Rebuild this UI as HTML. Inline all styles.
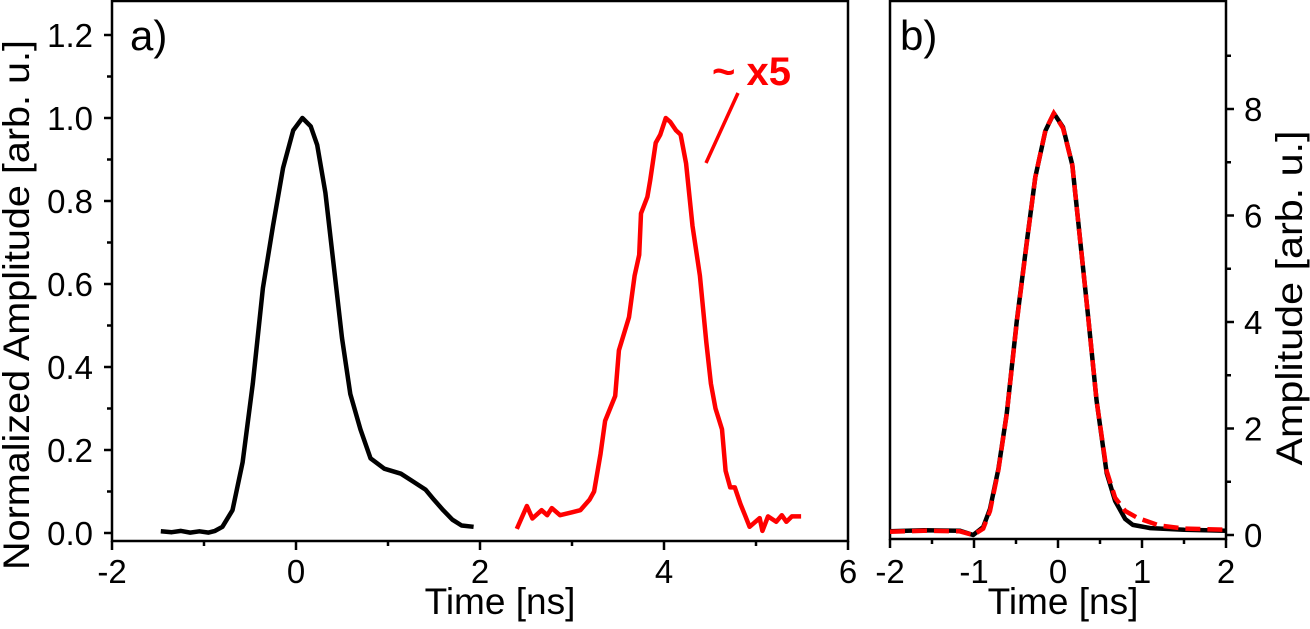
<!DOCTYPE html>
<html><head><meta charset="utf-8"><style>
html,body{margin:0;padding:0;background:#fff;}
svg{display:block;font-family:"Liberation Sans",Arial,sans-serif;}
</style></head><body>
<svg id="chart" width="1310" height="629" viewBox="0 0 1310 629" xmlns="http://www.w3.org/2000/svg"></svg>
<script>
// Panel a data
const aTicksX = [-2, 0, 2, 4, 6];
const aTicksY = [0.0, 0.2, 0.4, 0.6, 0.8, 1.0, 1.2];
const aTickLabelsY = ["0.0","0.2","0.4","0.6","0.8","1.0","1.2"];
const aBlackX = [-1.47,-1.35,-1.25,-1.15,-1.05,-0.95,-0.88,-0.80,-0.69,-0.58,-0.47,-0.36,-0.25,-0.14,-0.03,0.07,0.16,0.23,0.32,0.41,0.50,0.59,0.70,0.81,0.96,1.14,1.28,1.41,1.50,1.60,1.70,1.80,1.93];
const aBlackY = [0.004,0.002,0.005,0.001,0.004,0.001,0.005,0.015,0.055,0.17,0.36,0.59,0.74,0.88,0.97,1.0,0.98,0.935,0.82,0.645,0.47,0.335,0.25,0.18,0.155,0.143,0.123,0.104,0.08,0.055,0.032,0.018,0.015];
const aRedX = [2.40,2.51,2.57,2.67,2.73,2.78,2.87,3.0,3.09,3.19,3.24,3.31,3.36,3.47,3.51,3.62,3.68,3.73,3.75,3.82,3.85,3.91,3.96,4.02,4.07,4.13,4.18,4.24,4.31,4.39,4.46,4.51,4.56,4.63,4.67,4.72,4.77,4.83,4.88,4.93,5.04,5.07,5.13,5.22,5.28,5.33,5.39,5.49];
const aRedY = [0.01,0.065,0.035,0.055,0.043,0.06,0.043,0.05,0.055,0.08,0.10,0.19,0.27,0.33,0.44,0.52,0.62,0.67,0.77,0.81,0.85,0.94,0.96,1.0,0.99,0.97,0.96,0.89,0.74,0.62,0.46,0.36,0.30,0.25,0.15,0.11,0.11,0.07,0.043,0.015,0.036,0.005,0.04,0.027,0.043,0.027,0.04,0.04];
// Panel b data
const bTicksX = [-2, -1, 0, 1, 2];
const bTicksY = [0, 2, 4, 6, 8];
const bBlackX = [-2.0,-1.6,-1.17,-1.01,-0.89,-0.81,-0.71,-0.61,-0.49,-0.37,-0.27,-0.15,-0.05,0.06,0.17,0.26,0.36,0.46,0.58,0.68,0.80,0.89,1.10,1.5,2.0];
const bBlackY = [0.07,0.09,0.08,0.0,0.15,0.49,1.24,2.29,4.02,5.52,6.72,7.59,7.92,7.66,6.95,5.6,4.09,2.52,1.16,0.64,0.30,0.19,0.13,0.1,0.08];
const bRedX = [-2.0,-1.6,-1.17,-1.01,-0.89,-0.81,-0.71,-0.61,-0.49,-0.37,-0.27,-0.15,-0.05,0.06,0.17,0.26,0.36,0.46,0.58,0.68,0.80,0.95,1.2,1.5,2.0];
const bRedY = [0.06,0.08,0.07,0.0,0.12,0.45,1.22,2.28,4.0,5.5,6.72,7.6,7.92,7.64,6.95,5.6,4.09,2.52,1.2,0.7,0.45,0.32,0.18,0.12,0.1];

const NS = "http://www.w3.org/2000/svg";
const svg = document.getElementById('chart');
function mk(tag, attrs, parent){const e=document.createElementNS(NS,tag);for(const k in attrs)e.setAttribute(k,attrs[k]);(parent||svg).appendChild(e);return e;}

const ax = v => 112 + (v + 2) * 92;
const ay = v => 533 - v * 415;
const bx = v => 890 + (v + 2) * 84;
const by = v => 535 - v * 53.25;

let fa = mk('rect',{x:112,y:1,width:736,height:540,fill:'none',stroke:'#000','stroke-width':2.5});


for (let i=0;i<aTicksY.length;i++){
  const y=ay(aTicksY[i]);
  let t=mk('line',{x1:104,x2:112,y1:y,y2:y,stroke:'#000','stroke-width':2.5});
  
  
  let l=mk('text',{x:93,y:y+12,'font-size':33,'text-anchor':'end'});
  l.textContent=aTickLabelsY[i];
  
  
  if(i<aTicksY.length-1){const ym=ay(aTicksY[i]+0.1);
    let m=mk('line',{x1:107,x2:112,y1:ym,y2:ym,stroke:'#000','stroke-width':2.5});
    
    }
}
for (let i=0;i<aTicksX.length;i++){
  const x=ax(aTicksX[i]);
  let t=mk('line',{x1:x,x2:x,y1:541,y2:550,stroke:'#000','stroke-width':2.5});
  
  
  let l=mk('text',{x:x,y:583,'font-size':33,'text-anchor':'middle'});
  l.textContent=String(aTicksX[i]);
  
  
  if(i<aTicksX.length-1){const xm=ax(aTicksX[i]+1);
    let m=mk('line',{x1:xm,x2:xm,y1:541,y2:546,stroke:'#000','stroke-width':2.5});
    
    }
}
let yl=mk('text',{x:0,y:0,'font-size':37,'text-anchor':'middle',transform:'translate(29,305) rotate(-90)',textLength:530,lengthAdjust:'spacingAndGlyphs'});
yl.textContent='Normalized Amplitude [arb. u.]';


let xl=mk('text',{x:500,y:614,'font-size':37,'text-anchor':'middle'});
xl.textContent='Time [ns]';


let pa=mk('text',{x:130,y:50,'font-size':42});
pa.textContent='a)';



function poly(xs,ys,fx,fy){return xs.map((v,i)=>fx(v).toFixed(1)+','+fy(ys[i]).toFixed(1)).join(' ');}
let lb=mk('polyline',{points:poly(aBlackX,aBlackY,ax,ay),fill:'none',stroke:'#000','stroke-width':4.5,'stroke-linejoin':'round'});


let lr=mk('polyline',{points:poly(aRedX,aRedY,ax,ay),fill:'none',stroke:'#ff0000','stroke-width':4.5,'stroke-linejoin':'round'});


let an=mk('line',{x1:738,y1:93,x2:706,y2:163,stroke:'#ff0000','stroke-width':3.5});


let at=mk('text',{x:712,y:85,'font-size':40,'font-weight':'bold',fill:'#ff0000'});
at.textContent='~ x5';



let fb=mk('rect',{x:890,y:1,width:336,height:538,fill:'none',stroke:'#000','stroke-width':2.5});


for (let i=0;i<bTicksY.length;i++){
  const y=by(bTicksY[i]);
  let t=mk('line',{x1:1226,x2:1234,y1:y,y2:y,stroke:'#000','stroke-width':2.5});
  
  
  let l=mk('text',{x:1244,y:y+12,'font-size':33});
  l.textContent=String(bTicksY[i]);
  
  
  const ym=by(bTicksY[i]+1);
  let m=mk('line',{x1:1226,x2:1231,y1:ym,y2:ym,stroke:'#000','stroke-width':2.5});
  
  
}
for (let i=0;i<bTicksX.length;i++){
  const x=bx(bTicksX[i]);
  let t=mk('line',{x1:x,x2:x,y1:539,y2:548,stroke:'#000','stroke-width':2.5});
  
  
  let l=mk('text',{x:x,y:583,'font-size':33,'text-anchor':'middle'});
  l.textContent=String(bTicksX[i]);
  
  
  if(i<bTicksX.length-1){const xm=bx(bTicksX[i]+0.5);
    let m=mk('line',{x1:xm,x2:xm,y1:539,y2:544,stroke:'#000','stroke-width':2.5});
    
    }
}
let byl=mk('text',{x:0,y:0,'font-size':37,'text-anchor':'middle',transform:'translate(1302,298) rotate(-90)',textLength:335,lengthAdjust:'spacingAndGlyphs'});
byl.textContent='Amplitude [arb. u.]';


let bxl=mk('text',{x:1063,y:614,'font-size':37,'text-anchor':'middle'});
bxl.textContent='Time [ns]';


let pb=mk('text',{x:900,y:50,'font-size':42});
pb.textContent='b)';


let bb=mk('polyline',{points:poly(bBlackX,bBlackY,bx,by),fill:'none',stroke:'#000','stroke-width':4.5,'stroke-linejoin':'round'});


let br=mk('polyline',{points:poly(bRedX,bRedY,bx,by),fill:'none',stroke:'#ff0000','stroke-width':4.5,'stroke-dasharray':'15 7'});


</script>
</body></html>
